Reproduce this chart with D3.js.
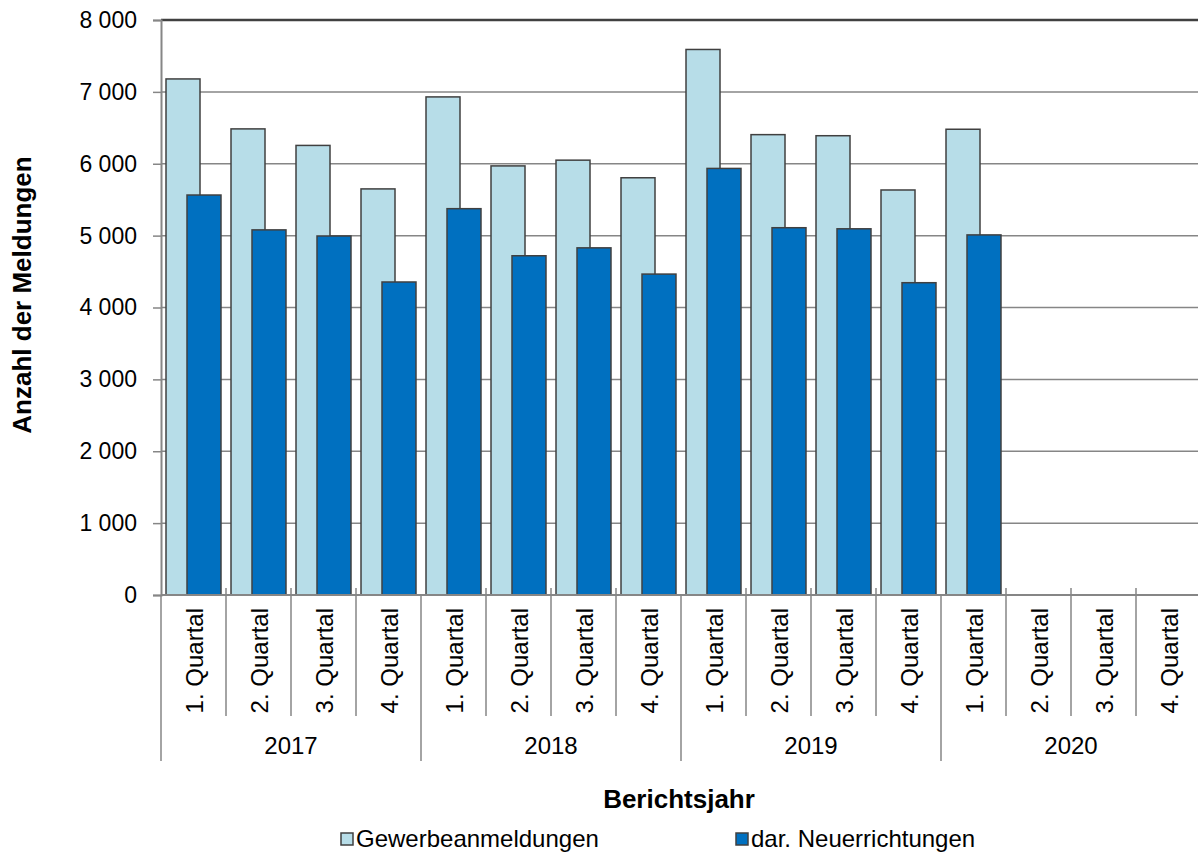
<!DOCTYPE html>
<html>
<head>
<meta charset="utf-8">
<script src="https://cdn.jsdelivr.net/npm/d3@7"></script>
<style>
  body { margin: 0; background: #fff; }
  svg { display: block; font-family: "Liberation Sans", Arial, sans-serif; }
</style>
</head>
<body>
<div id="chart"></div>
<script>
// data
const years = ['2017', '2018', '2019', '2020'];
const quarters = ['1. Quartal', '2. Quartal', '3. Quartal', '4. Quartal'];
const anmeldungen = [7180, 6485, 6255, 5650, 6930, 5970, 6050, 5805, 7590, 6405, 6390, 5635, 6480, null, null, null];
const neuerrichtungen = [5565, 5080, 4995, 4355, 5375, 4720, 4830, 4465, 5935, 5110, 5095, 4345, 5010, null, null, null];
const yTicks = [0, 1000, 2000, 3000, 4000, 5000, 6000, 7000, 8000];
const seriesNames = ['Gewerbeanmeldungen', 'dar. Neuerrichtungen'];

const width = 1198, height = 857;
const plotLeft = 161, plotRight = 1201, plotTop = 20, plotBottom = 595;

const svg = d3.select('#chart').append('svg')
  .attr('width', width)
  .attr('height', height);

// categories = every quarter of every year
const cats = [];
years.forEach(yr => quarters.forEach(q => cats.push({ year: yr, q: q })));

const x = d3.scaleBand()
  .domain(d3.range(cats.length))
  .range([plotLeft, plotRight])
  .padding(0);

const y = d3.scaleLinear()
  .domain([0, 8000])
  .range([plotBottom, plotTop]);

const fmt = d3.formatLocale({ decimal: ',', thousands: ' ', grouping: [3], currency: ['', ''] }).format(',d');

// gridlines
svg.append('g')
  .selectAll('line')
  .data(yTicks.filter(d => d > 0))
  .enter()
  .append('line')
  .attr('x1', plotLeft)
  .attr('x2', width)
  .attr('y1', d => y(d))
  .attr('y2', d => y(d))
  .attr('stroke', d => d === 8000 ? '#404040' : '#868686')
  .attr('stroke-width', d => d === 8000 ? 2.5 : 1.5);

// y axis
const yAxis = svg.append('g')
  .attr('transform', `translate(${plotLeft},0)`)
  .call(d3.axisLeft(y).tickValues(yTicks).tickFormat(fmt).tickSize(8).tickPadding(16));
yAxis.select('.domain').attr('stroke', '#868686').attr('stroke-width', 2);
yAxis.selectAll('.tick line').attr('stroke', '#868686').attr('stroke-width', 1.5);
yAxis.selectAll('.tick text')
  .attr('fill', '#000')
  .style('font-size', '23px');

// bars
const bw = x.bandwidth();
const barW = bw * 0.523;

svg.append('g')
  .selectAll('rect')
  .data(anmeldungen.map((v, i) => ({ i, v })).filter(d => d.v != null))
  .enter()
  .append('rect')
  .attr('x', d => x(d.i) + bw * 0.077)
  .attr('y', d => y(d.v))
  .attr('width', barW)
  .attr('height', d => y(0) - y(d.v))
  .attr('fill', '#b7dde8')
  .attr('stroke', '#404040')
  .attr('stroke-width', 1.5);

svg.append('g')
  .selectAll('rect')
  .data(neuerrichtungen.map((v, i) => ({ i, v })).filter(d => d.v != null))
  .enter()
  .append('rect')
  .attr('x', d => x(d.i) + bw * 0.4)
  .attr('y', d => y(d.v))
  .attr('width', barW)
  .attr('height', d => y(0) - y(d.v))
  .attr('fill', '#0070c0')
  .attr('stroke', '#404040')
  .attr('stroke-width', 1.5);

// x axis line
svg.append('line')
  .attr('x1', plotLeft).attr('x2', width)
  .attr('y1', plotBottom).attr('y2', plotBottom)
  .attr('stroke', '#868686').attr('stroke-width', 2);

// category separators (quarters short, years long)
const bounds = d3.range(cats.length + 1);
svg.append('g')
  .selectAll('line')
  .data(bounds)
  .enter()
  .append('line')
  .attr('x1', d => d < cats.length ? x(d) : plotRight)
  .attr('x2', d => d < cats.length ? x(d) : plotRight)
  .attr('y1', d => d % 4 === 0 ? plotBottom : plotBottom - 7)
  .attr('y2', d => d % 4 === 0 ? 761 : 716)
  .attr('stroke', '#868686')
  .attr('stroke-width', 1.5);

// quarter labels
svg.append('g')
  .selectAll('text')
  .data(cats)
  .enter()
  .append('text')
  .attr('transform', (d, i) => `translate(${x(i) + bw / 2 + 9},${plotBottom + 13}) rotate(-90)`)
  .attr('text-anchor', 'end')
  .style('font-size', '24px')
  .text(d => d.q);

// year labels
svg.append('g')
  .selectAll('text')
  .data(years)
  .enter()
  .append('text')
  .attr('x', (d, i) => (x(i * 4) + (i * 4 + 4 < cats.length ? x(i * 4 + 4) : plotRight)) / 2)
  .attr('y', 754)
  .attr('text-anchor', 'middle')
  .style('font-size', '24px')
  .text(d => d);

// axis titles
svg.append('text')
  .attr('transform', `translate(31,295) rotate(-90)`)
  .attr('text-anchor', 'middle')
  .style('font-size', '26px')
  .style('font-weight', 'bold')
  .text('Anzahl der Meldungen');

svg.append('text')
  .attr('x', 679)
  .attr('y', 808)
  .attr('text-anchor', 'middle')
  .style('font-size', '26px')
  .style('font-weight', 'bold')
  .text('Berichtsjahr');

// legend
const legendX = [341, 736];
const legendColors = ['#b7dde8', '#0070c0'];
const legend = svg.append('g')
  .selectAll('g')
  .data(seriesNames)
  .enter()
  .append('g')
  .attr('transform', (d, i) => `translate(${legendX[i]},833)`);
legend.append('rect')
  .attr('width', 12).attr('height', 12)
  .attr('fill', (d, i) => legendColors[i])
  .attr('stroke', '#404040')
  .attr('stroke-width', 1.5);
legend.append('text')
  .attr('x', 15)
  .attr('y', 14)
  .style('font-size', '24px')
  .text(d => d);
</script>
</body>
</html>
